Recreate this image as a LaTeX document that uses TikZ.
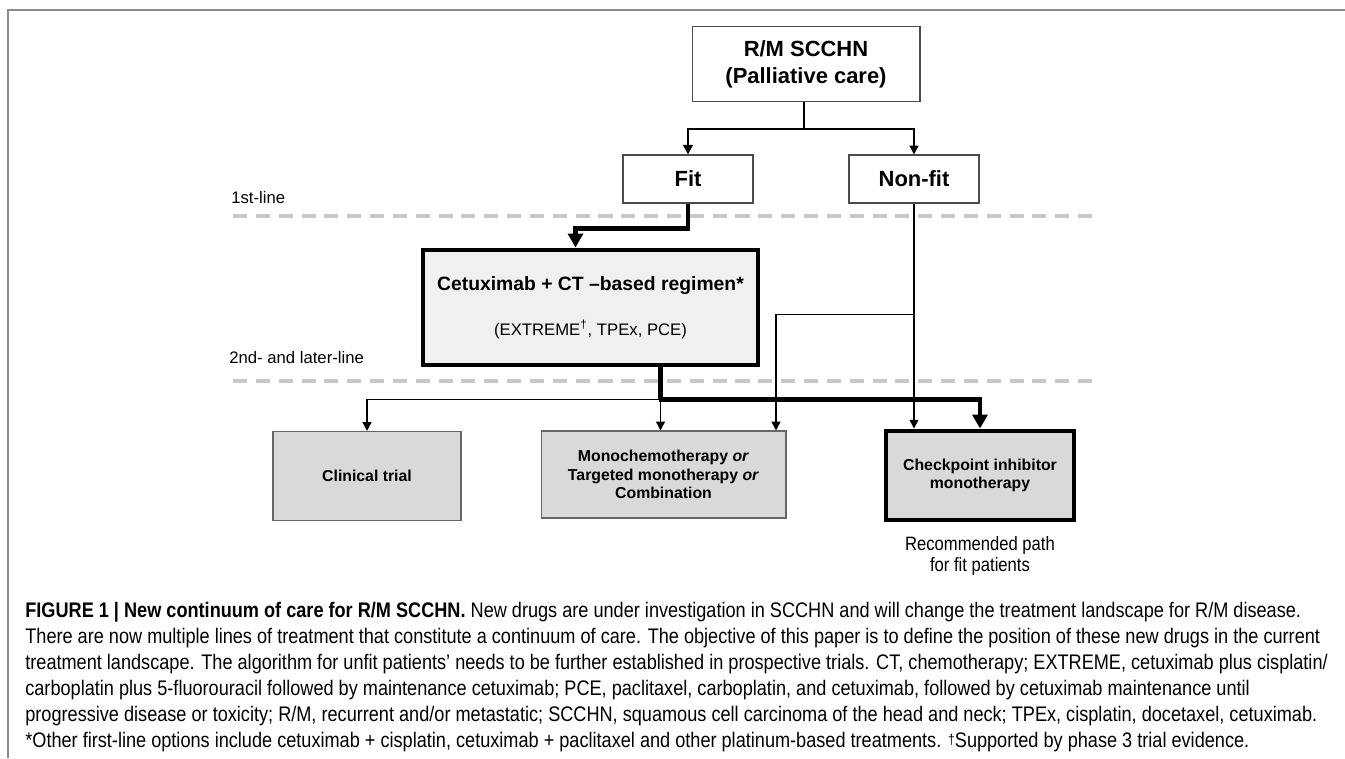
\documentclass[tikz,border=0pt]{standalone}
\usepackage{fontspec}
\setmainfont{Liberation Sans}
\newfontfamily\capfont[FakeStretch=0.86]{Liberation Sans}
\usetikzlibrary{arrows.meta,calc}
\definecolor{tiergray}{HTML}{C8C8C8}
\definecolor{boxgray}{HTML}{D9D9D9}
\definecolor{lightfill}{HTML}{F0F0F0}

\begin{document}
\begin{tikzpicture}[
  x=0.02cm,
  y=-0.02cm,
  line join=miter,
  plain box/.style={draw=black!70, line width=0.6pt, align=center, inner sep=0pt,
    font=\bfseries\fontsize{12.5}{15.5}\selectfont},
  option box/.style={draw=black!60, line width=0.6pt, fill=boxgray, align=center,
    inner sep=0pt, minimum width=3.76cm, minimum height=1.78cm,
    font=\bfseries\fontsize{9}{10.5}\selectfont},
  key box/.style={option box, draw=black, line width=2.8pt},
  tier line/.style={draw=tiergray, line width=2.3pt, dash pattern=on 8pt off 5pt},
  tier label/.style={anchor=west, inner sep=0pt, font=\fontsize{9.5}{11}\selectfont},
  thin arrow/.style={-{Triangle[length=5pt,width=5pt]}, line width=0.8pt},
  mid arrow/.style={-{Triangle[length=5.5pt,width=5.5pt]}, line width=1.2pt},
  big arrow/.style={-{Triangle[length=8pt,width=8.5pt]}, line width=2.8pt},
  caption line/.style={anchor=west, inner sep=0pt,
    font=\capfont\fontsize{12}{14}\selectfont}
]
  \useasboundingbox (0,0) rectangle (1345,758);
  \draw[black!45, line width=0.85pt] (8,758) -- (8,10) -- (1345,10);

  % treatment lines
  \foreach \y in {216,381}
    \draw[tier line] (233,\y) -- (1100,\y);
  \node[tier label] (first) at (231,198) {1st-line};
  \node[tier label] (later) at (229,358) {2nd- and later-line};

  % boxes
  \node[plain box, minimum width=4.56cm, minimum height=1.5cm] (rm) at (806,64)
    {R/M SCCHN\\(Palliative care)};
  \node[plain box, minimum width=2.6cm, minimum height=0.96cm] (fit) at (688,179) {Fit};
  \node[plain box, minimum width=2.6cm, minimum height=0.96cm] (nonfit) at (914,179) {Non-fit};
  \node[plain box, fill=lightfill, draw=black, line width=2.8pt,
    minimum width=6.7cm, minimum height=2.3cm] (regimen) at (590.5,307.5)
    {\fontsize{11}{13}\selectfont Cetuximab + CT –based regimen*\\[10pt]
     \mdseries\fontsize{9.5}{11}\selectfont (EXTREME\textsuperscript{†}, TPEx, PCE)};
  \node[option box] (trial) at (367,476) {Clinical trial};
  \node[option box, minimum width=4.9cm, minimum height=1.74cm] (mono) at (663.5,474.5)
    {Monochemotherapy \textit{or}\\Targeted monotherapy \textit{or}\\Combination};
  \node[key box] (checkpoint) at (980,475.5) {Checkpoint inhibitor\\monotherapy};
  \node[inner sep=0pt, align=center, font=\capfont\fontsize{11}{11.5}\selectfont]
    (recommended) at (980,556) {Recommended path\\for fit patients};

  % connectors
  \draw[mid arrow] ($(rm.south)+(-2,0)$) -- ++(0,27) coordinate (split) -| (fit.north);
  \draw[thin arrow] (split) -| (nonfit.north);
  \draw[big arrow] (fit.south) -- ++(0,25) -| ($(regimen.north)+(-15,0)$);
  \coordinate (hub) at ($(regimen.south)+(70,32)$);
  \draw[line width=2.8pt] ($(regimen.south)+(70,0)$) -- (hub);
  \draw[big arrow] ($(hub)+(-1.4,0)$) -| (checkpoint.north);
  \draw[thin arrow] (hub) -| (trial.north);
  \draw[thin arrow] (hub) -- (hub |- mono.north);
  \draw[thin arrow] (nonfit.south) -- (nonfit.south |- checkpoint.north);
  \coordinate (nfbranch) at ($(nonfit.south)+(0,111)$);
  \draw[thin arrow] (nfbranch) -| ($(mono.north)+(112.5,0)$);

  % caption
  \node[caption line] (cap1) at (25,612) {\textbf{FIGURE 1 | New continuum of care for R/M SCCHN.} New drugs are under investigation in SCCHN and will change the treatment landscape for R/M disease.};
  \node[caption line] (cap2) at (25,638) {There are now multiple lines of treatment that constitute a continuum of care. The objective of this paper is to define the position of these new drugs in the current};
  \node[caption line] (cap3) at (25,664) {treatment landscape. The algorithm for unfit patients’ needs to be further established in prospective trials. CT, chemotherapy; EXTREME, cetuximab plus cisplatin/};
  \node[caption line] (cap4) at (25,690) {carboplatin plus 5-fluorouracil followed by maintenance cetuximab; PCE, paclitaxel, carboplatin, and cetuximab, followed by cetuximab maintenance until};
  \node[caption line] (cap5) at (25,716) {progressive disease or toxicity; R/M, recurrent and/or metastatic; SCCHN, squamous cell carcinoma of the head and neck; TPEx, cisplatin, docetaxel, cetuximab.};
  \node[caption line] (cap6) at (25,742) {*Other first-line options include cetuximab + cisplatin, cetuximab + paclitaxel and other platinum-based treatments. {\fontsize{8}{8}\selectfont\raisebox{0.45ex}{†}}Supported by phase 3 trial evidence.};
\end{tikzpicture}
\end{document}
